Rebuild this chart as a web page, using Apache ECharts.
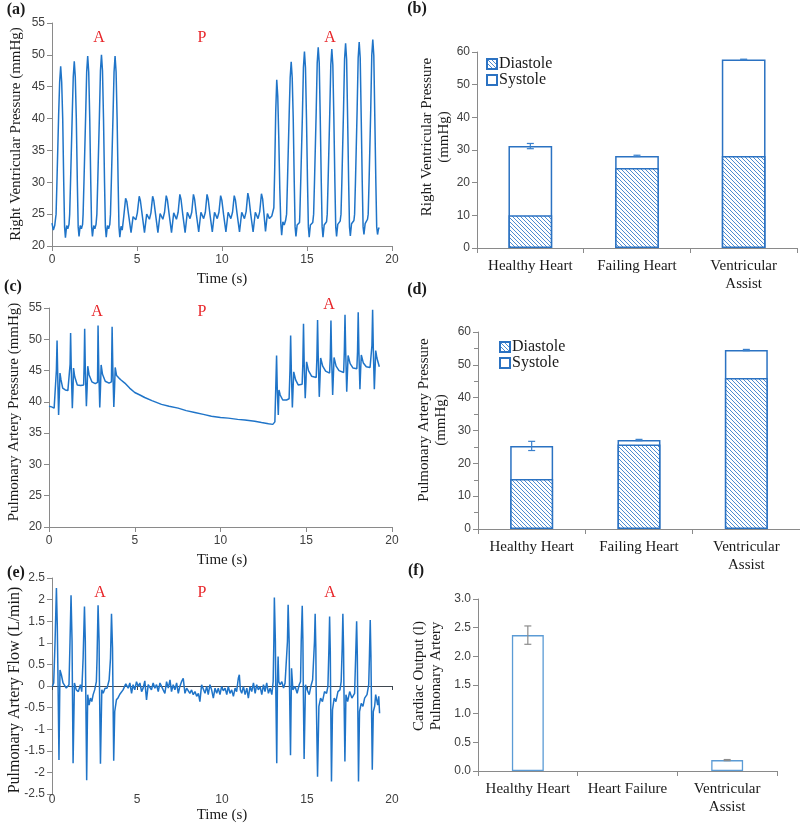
<!DOCTYPE html>
<html><head><meta charset="utf-8">
<script src="https://cdn.jsdelivr.net/npm/echarts@6/dist/echarts.min.js"></script>
<style>html,body{margin:0;padding:0;background:#fff}#chart{width:800px;height:831px}</style>
</head><body><div id="chart"></div>
<script>
// ---------- DATA ----------
const rvPressure = [
[0.00,23.6],[0.08,22.5],[0.16,23.2],[0.24,25],[0.29,30],[0.39,40.5],[0.45,45.7],[0.51,48.2],[0.57,45.7],[0.63,40],[0.69,30],[0.74,23],[0.79,21.3],[0.86,23.2],[0.93,22.7],[1.00,23.4],
[1.04,25],[1.09,30],[1.19,40.5],[1.25,46.5],[1.31,49.0],[1.37,46.5],[1.43,40],[1.49,30],[1.54,23],[1.59,21.5],[1.66,23.2],[1.73,22.7],[1.80,23.4],
[1.83,25],[1.88,30],[1.98,40.5],[2.04,47.3],[2.10,49.8],[2.16,47.3],[2.22,40],[2.28,30],[2.33,23],[2.38,21.5],[2.45,23.2],[2.52,22.7],[2.59,23.4],
[2.64,25],[2.69,30],[2.79,40.5],[2.85,47.5],[2.91,50.0],[2.97,47.5],[3.03,40],[3.09,30],[3.14,23],[3.19,21.4],[3.26,23.2],[3.33,22.7],[3.40,23.4],
[3.44,25],[3.49,30],[3.59,40.5],[3.65,47.3],[3.71,49.8],[3.77,47.3],[3.83,40],[3.89,30],[3.94,23],[3.99,21.4],[4.06,23.1],[4.13,22.5],
[4.22,24.6],[4.33,27.5],[4.40,27.0],[4.50,25.0],[4.65,22.1],[4.77,24.6],[4.85,24.7],[4.93,24.1],[5.02,25.2],
[5.13,27.8],[5.20,27.1],[5.30,25.0],[5.44,22.1],[5.57,25.0],[5.65,24.8],[5.73,24.2],[5.82,25.2],
[5.92,27.8],[5.99,27.1],[6.09,25.0],[6.23,22.1],[6.36,25.1],[6.44,24.9],[6.52,24.2],[6.62,25.3],
[6.72,27.9],[6.79,27.2],[6.89,25.0],[7.03,22.1],[7.16,25.2],[7.24,24.9],[7.32,24.2],[7.42,25.3],
[7.52,28.1],[7.59,27.3],[7.69,25.0],[7.83,22.1],[7.96,25.3],[8.04,25.0],[8.12,24.3],[8.22,25.3],
[8.32,28.1],[8.39,27.3],[8.49,25.0],[8.63,22.2],[8.76,25.3],[8.84,25.0],[8.92,24.3],[9.02,25.3],
[9.12,28.1],[9.19,27.3],[9.29,25.0],[9.43,22.2],[9.56,25.3],[9.64,25.0],[9.72,24.3],[9.82,25.3],
[9.92,27.9],[9.99,27.2],[10.09,25.0],[10.23,22.2],[10.36,25.3],[10.44,25.0],[10.52,24.3],[10.62,25.3],
[10.72,27.9],[10.79,27.2],[10.89,25.0],[11.03,22.2],[11.16,25.3],[11.24,25.0],[11.32,24.3],[11.42,25.4],
[11.52,28.3],[11.59,27.4],[11.69,25.0],[11.83,22.2],[11.96,25.3],[12.04,25.0],[12.12,24.3],[12.22,25.4],
[12.32,28.2],[12.39,27.4],[12.47,25.0],[12.56,22.3],[12.67,25.1],[12.79,24.3],[12.93,24.7],[13.00,24.4],
[13.05,26],[13.10,32],[13.16,41],[13.22,46.1],[13.28,43.5],[13.34,37],[13.40,29],[13.46,23.5],[13.51,21.7],[13.58,23.8],[13.66,23.3],[13.74,24.0],
[13.80,25],[13.85,30],[13.95,40.5],[14.01,46.4],[14.07,48.9],[14.13,46.4],[14.19,40],[14.25,30],[14.30,23],[14.35,21.5],[14.42,23.3],[14.49,23.0],[14.56,23.7],
[14.58,25],[14.63,30],[14.73,40.5],[14.79,48],[14.85,50.5],[14.91,48],[14.97,40],[15.03,30],[15.08,23],[15.13,21.4],[15.20,23.3],[15.27,23.0],[15.34,23.7],
[15.39,25],[15.44,30],[15.54,41],[15.60,48.7],[15.66,51.2],[15.72,48.7],[15.78,40],[15.84,30],[15.89,23],[15.94,21.4],[16.01,23.3],[16.08,23.0],[16.15,23.8],
[16.19,25],[16.24,30],[16.34,41],[16.40,48.4],[16.46,50.9],[16.52,48.4],[16.58,40],[16.64,30],[16.69,23],[16.74,21.5],[16.81,23.4],[16.88,23.1],[16.95,23.9],
[17.00,25],[17.05,30],[17.15,41.5],[17.21,49.3],[17.27,51.8],[17.33,49.3],[17.39,40],[17.45,30],[17.50,23],[17.55,21.6],[17.62,23.5],[17.69,23.2],[17.76,24],
[17.80,25],[17.85,30],[17.95,41.5],[18.01,49.5],[18.07,52.0],[18.13,49.5],[18.19,40],[18.25,30],[18.30,23],[18.35,21.8],[18.42,23.5],[18.49,23.2],[18.56,24.2],
[18.60,25],[18.65,30],[18.75,41.5],[18.81,49.9],[18.87,52.4],[18.93,49.9],[18.99,40],[19.05,30],[19.10,23],[19.15,21.8],[19.20,22.6],[19.24,22.9]
];

const paPressure = [
[0.00,39.3],[0.15,39.2],[0.30,39.0],[0.39,39.3],[0.43,45],[0.47,49.8],[0.51,44],[0.56,37.9],[0.60,41],[0.64,44.6],[0.70,43.5],[0.80,42.2],[0.95,41.9],[1.10,41.8],[1.19,42],
[1.23,46],[1.26,51.0],[1.30,45],[1.36,39.0],[1.40,42],[1.43,45.4],[1.50,44.0],[1.65,42.7],[1.85,42.6],[2.02,42.7],
[2.05,46],[2.08,51.7],[2.12,45],[2.18,39.3],[2.22,42],[2.26,45.7],[2.34,44.3],[2.50,43.2],[2.70,42.9],[2.83,43.1],
[2.86,52.2],[2.90,45.5],[2.96,39.1],[3.00,42],[3.04,45.9],[3.12,44.4],[3.28,43.3],[3.50,43.0],[3.64,43.2],
[3.68,52.0],[3.72,45.5],[3.78,39.2],[3.82,42],[3.86,45.5],[3.94,44.2],[4.08,43.8],[4.20,43.5],[4.42,43.0],[4.70,42.2],[5.00,41.5],[5.30,41.1],[5.58,40.7],[6.00,40.2],[6.56,39.6],[7.00,39.3],[7.53,39.0],[8.00,38.6],[8.50,38.3],[9.00,38.0],[9.47,37.7],[10.00,37.5],[10.45,37.4],[11.00,37.2],[11.42,37.1],[12.00,36.9],[12.39,36.7],[12.80,36.5],[13.05,36.4],[13.17,36.8],
[13.22,42],[13.27,47.4],[13.31,42],[13.37,37.9],[13.41,41.9],[13.48,41.1],[13.63,40.3],[13.85,40.3],[14.00,40.5],
[14.05,45],[14.09,50.6],[14.13,45],[14.19,39.1],[14.23,42],[14.27,44.8],[14.38,43.5],[14.53,42.7],[14.76,42.8],
[14.80,46],[14.84,52.5],[14.88,46],[14.94,40.6],[14.98,43],[15.02,46.4],[15.13,45.0],[15.31,44.1],[15.58,43.9],
[15.62,47],[15.66,53.1],[15.70,47],[15.76,40.8],[15.80,43.5],[15.84,47.0],[15.96,45.7],[16.13,44.9],[16.36,44.6],
[16.40,47],[16.44,53.0],[16.48,47],[16.54,41.1],[16.58,44],[16.62,47.1],[16.74,45.7],[16.91,45.0],[17.18,44.7],
[17.22,48],[17.26,53.9],[17.30,48],[17.36,41.6],[17.40,44.5],[17.44,47.4],[17.56,46.1],[17.73,45.4],[17.95,45.3],
[17.99,48],[18.03,54.3],[18.07,48],[18.13,42.0],[18.17,45],[18.21,47.5],[18.33,46.2],[18.50,45.6],[18.72,45.5],[18.80,45.6],
[18.83,49],[18.87,54.7],[18.91,48.5],[18.97,42.0],[19.01,45],[19.05,48.2],[19.12,47.0],[19.18,47.3],[19.26,45.6]
];

const paFlow = [
[0.02,-0.01],[0.10,0.07],[0.18,1.03],[0.26,2.27],[0.31,1.42],[0.35,0.26],[0.41,-1.71],[0.47,0.37],[0.55,0.26],[0.65,0.07],[0.75,0.10],[0.84,-0.05],[0.94,-0.09],[1.00,0.03],
[1.06,1.03],[1.12,2.10],[1.18,1.03],[1.20,0.03],[1.24,-1.79],[1.32,0.07],[1.43,-0.09],[1.55,-0.13],[1.67,0.03],[1.75,-0.13],
[1.83,0.64],[1.91,1.84],[1.96,1.03],[1.98,0.10],[2.04,-2.18],[2.10,-0.20],[2.18,-0.44],[2.26,-0.28],[2.34,-0.36],[2.42,-0.20],[2.51,-0.09],[2.61,0.10],
[2.65,0.64],[2.71,1.87],[2.77,1.03],[2.79,0.10],[2.85,-1.80],[2.93,-0.09],[3.01,-0.17],[3.12,-0.05],[3.24,-0.05],[3.36,0.14],
[3.44,0.64],[3.50,1.67],[3.56,0.88],[3.58,0.10],[3.63,-1.73],[3.69,-0.59],[3.79,-0.32],[3.89,-0.27],[3.99,-0.19],[4.18,-0.09],[4.34,0.05],
[4.38,0.04],[4.48,-0.05],[4.58,0.07],[4.68,-0.17],[4.77,0.03],[4.87,-0.09],[4.97,0.10],[5.07,-0.01],[5.17,0.07],[5.27,-0.13],[5.36,-0.05],[5.46,0.12],[5.56,-0.32],[5.66,0.03],[5.76,-0.01],[5.85,-0.09],[5.95,0.07],[6.05,-0.05],[6.15,0.03],[6.25,-0.13],[6.35,0.07],[6.44,0.10],[6.54,-0.09],[6.64,-0.17],[6.74,0.10],[6.84,-0.05],[6.94,0.14],[7.03,-0.13],[7.13,0.03],[7.23,-0.09],[7.33,0.07],[7.43,-0.17],[7.52,-0.01],[7.62,0.10],[7.72,0.18],[7.82,-0.17],[7.92,-0.05],[8.02,-0.09],[8.11,-0.17],[8.21,-0.09],[8.31,-0.20],[8.41,-0.13],[8.51,-0.24],[8.61,-0.17],[8.70,-0.36],[8.80,0.03],[8.90,0.07],[9.00,-0.17],[9.10,-0.01],[9.19,-0.20],[9.29,0.03],[9.39,-0.09],[9.49,-0.28],[9.59,-0.05],[9.69,-0.17],[9.78,-0.05],[9.88,-0.20],[9.98,-0.01],[10.08,-0.11],
[10.18,-0.05],[10.28,-0.20],[10.37,-0.01],[10.47,-0.17],[10.57,-0.09],[10.67,-0.24],[10.77,-0.05],[10.86,-0.13],[10.96,0.18],[11.02,0.26],[11.08,-0.09],[11.16,-0.17],[11.26,-0.01],[11.36,-0.20],[11.46,-0.05],[11.55,-0.28],[11.65,-0.01],[11.75,-0.13],[11.85,0.07],[11.95,-0.17],[12.04,0.03],[12.14,-0.09],[12.24,-0.01],[12.34,-0.20],[12.44,0.03],[12.53,-0.13],[12.63,0.07],[12.73,-0.17],[12.83,-0.05],[12.93,-0.20],[13.01,0.10],
[13.05,1.03],[13.08,2.05],[13.14,1.03],[13.16,0.10],[13.22,-1.79],[13.26,0.03],[13.30,0.68],[13.34,0.10],[13.42,0.03],[13.52,0.10],[13.62,-0.05],[13.71,0.07],[13.81,0.03],
[13.85,1.03],[13.89,1.88],[13.95,1.03],[13.97,0.03],[14.03,-1.60],[14.09,0.41],[14.17,-0.09],[14.30,-0.01],[14.42,-0.17],[14.54,0.03],[14.62,0.10],
[14.66,1.03],[14.72,1.86],[14.76,1.03],[14.78,0.03],[14.83,-1.69],[14.91,0.03],[15.01,-0.09],[15.13,-0.20],[15.25,0.03],[15.33,0.14],[15.41,0.10],
[15.44,1.03],[15.48,1.67],[15.52,0.88],[15.54,-0.13],[15.62,-2.10],[15.70,-0.47],[15.80,-0.28],[15.91,-0.36],[16.03,-0.13],[16.15,-0.17],[16.23,-0.01],
[16.29,0.88],[16.33,1.61],[16.37,0.80],[16.39,-0.20],[16.44,-2.21],[16.50,-0.55],[16.60,-0.28],[16.70,-0.36],[16.82,-0.13],[16.94,-0.09],[17.01,0.10],
[17.07,0.88],[17.11,1.67],[17.15,0.88],[17.17,0.03],[17.23,-1.75],[17.29,-0.20],[17.39,-0.36],[17.51,-0.13],[17.64,-0.28],[17.80,-0.17],
[17.86,0.64],[17.92,1.50],[17.96,0.72],[17.98,-0.13],[18.03,-2.21],[18.09,-0.59],[18.19,-0.40],[18.29,-0.47],[18.39,-0.28],[18.53,-0.20],[18.63,0.03],
[18.67,0.64],[18.72,1.53],[18.76,0.72],[18.78,0.03],[18.84,-1.94],[18.90,-0.59],[18.98,-0.47],[19.04,-0.20],[19.10,-0.32],[19.16,-0.44],[19.22,-0.24],[19.27,-0.63]
];

const pressureCategories = ['Healthy Heart', 'Failing Heart', 'Ventricular\nAssist'];
const rvDiastole = [10.0, 24.5, 28.2];
const rvSystole = [31.2, 28.2, 57.7];
const rvSystoleErr = [0.8, 0.2, 0.1];
const paDiastole = [15.2, 25.7, 46.0];
const paSystole = [25.3, 27.1, 54.5];
const paSystoleErr = [1.4, 0.2, 0.2];
const outputCategories = ['Healthy Heart', 'Heart Failure', 'Ventricular\nAssist'];
const cardiacOutput = [2.37, 0, 0.19];
const cardiacOutputErr = [0.16, 0, 0.01];

// ---------- STYLE ----------
const LINE = '#1f74c8';
const BARC = '#2b72c2';
const AXIS = '#8a8a8a';
const LBL = '#404040';
const SERIF = 'Liberation Serif';
const SANS = 'Liberation Sans';

function makeHatch(color) {
  const s = 4, c = document.createElement('canvas');
  c.width = s; c.height = s;
  const g = c.getContext('2d');
  g.fillStyle = '#fff'; g.fillRect(0, 0, s, s);
  g.strokeStyle = color; g.lineWidth = 0.9;
  g.beginPath();
  g.moveTo(-1, -1); g.lineTo(s + 1, s + 1);
  g.moveTo(s - 1, -1); g.lineTo(s + 1, 1);
  g.moveTo(-1, s - 1); g.lineTo(1, s + 1);
  g.stroke();
  return c;
}
const hatch = { image: makeHatch('#3a7fcc'), repeat: 'repeat' };

function timeX(gi, extra) {
  return Object.assign({
    gridIndex: gi, type: 'value', min: 0, max: 20, interval: 5,
    axisLine: { show: true, onZero: false, lineStyle: { color: AXIS } },
    axisTick: { show: true, length: 5, lineStyle: { color: AXIS } },
    axisLabel: { color: LBL, fontFamily: SANS, fontSize: 12, margin: 8 },
    splitLine: { show: false }
  }, extra || {});
}
function valY(gi, min, max, interval, extra) {
  return Object.assign({
    gridIndex: gi, type: 'value', min, max, interval,
    axisLine: { show: true, onZero: false, lineStyle: { color: AXIS } },
    axisTick: { show: true, length: 5, lineStyle: { color: AXIS } },
    axisLabel: { color: LBL, fontFamily: SANS, fontSize: 12, margin: 7 },
    splitLine: { show: false }
  }, extra || {});
}
function catX(gi, data) {
  return {
    gridIndex: gi, type: 'category', data,
    axisLine: { lineStyle: { color: AXIS } },
    axisTick: { show: true, length: 5, lineStyle: { color: AXIS } },
    axisLabel: { color: '#1a1a1a', fontFamily: SERIF, fontSize: 15, lineHeight: 18, margin: 9, interval: 0 },
    splitLine: { show: false }
  };
}
function lineSeries(xi, yi, data) {
  return { type: 'line', xAxisIndex: xi, yAxisIndex: yi, data, showSymbol: false, symbol: 'none',
    lineStyle: { color: LINE, width: 1.5 }, itemStyle: { color: LINE }, z: 3 };
}
function errSeries(xi, yi, vals, errs, color) {
  return {
    type: 'custom', xAxisIndex: xi, yAxisIndex: yi, z: 10,
    data: vals.map((v, i) => [i, v, errs[i]]),
    encode: { x: 0, y: 1 },
    renderItem(params, api) {
      const i = api.value(0), v = api.value(1), e = api.value(2);
      if (!v || !e) return null;
      const hi = api.coord([i, v + e]), lo = api.coord([i, v - e]);
      const w = 3.5, st = { stroke: color, lineWidth: 1.2 };
      return { type: 'group', children: [
        { type: 'line', shape: { x1: hi[0], y1: hi[1], x2: lo[0], y2: lo[1] }, style: st },
        { type: 'line', shape: { x1: hi[0] - w, y1: hi[1], x2: hi[0] + w, y2: hi[1] }, style: st },
        { type: 'line', shape: { x1: lo[0] - w, y1: lo[1], x2: lo[0] + w, y2: lo[1] }, style: st }
      ] };
    }
  };
}
function txt(text, x, y, o) {
  o = o || {};
  return {
    type: 'text', x, y, rotation: o.rot || 0, silent: true, z: 100,
    style: {
      text, fontFamily: o.family || SERIF, fontSize: o.size || 15, fontWeight: o.weight || 'normal',
      fill: o.color || '#1a1a1a', lineHeight: o.lh || 17,
      align: 'center', verticalAlign: 'middle', textAlign: 'center', textVerticalAlign: 'middle'
    }
  };
}
const RED = '#e8262a';
const V = Math.PI / 2;

const legendCommon = {
  data: ['Diastole', 'Systole'], orient: 'vertical', icon: 'rect', itemWidth: 10, itemHeight: 10, itemGap: 0,
  selectedMode: false, textStyle: { fontFamily: SERIF, fontSize: 16, color: '#1a1a1a', lineHeight: 16, padding: [0, 0, 0, -3] }
};

const option = {
  animation: false,
  backgroundColor: '#fff',
  grid: [
    { left: 52, top: 23, width: 340, height: 223 },
    { left: 477, top: 52, width: 320, height: 196 },
    { left: 49, top: 308, width: 343, height: 219 },
    { left: 478, top: 332, width: 322, height: 197 },
    { left: 52, top: 578, width: 340, height: 216 },
    { left: 478, top: 599, width: 299, height: 172 }
  ],
  legend: [
    Object.assign({ left: 481, top: 51 }, legendCommon),
    Object.assign({ left: 494, top: 334 }, legendCommon)
  ],
  xAxis: [
    timeX(0),
    catX(1, pressureCategories),
    timeX(2),
    catX(3, pressureCategories),
    timeX(4, { axisLine: { show: true, onZero: true, lineStyle: { color: '#3f4750', width: 1.2 } }, axisLabel: { show: false },
      axisTick: { show: true, length: 4, lineStyle: { color: '#3f4750' } } }),
    catX(5, outputCategories),
    timeX(4, { position: 'bottom', axisLine: { show: false, onZero: false }, axisTick: { show: false },
      axisLabel: { color: LBL, fontFamily: SANS, fontSize: 12, margin: 0 } })
  ],
  yAxis: [
    valY(0, 20, 55, 5),
    valY(1, 0, 60, 10),
    valY(2, 20, 55, 5),
    valY(3, 0, 60, 10, { minorTick: { show: true, splitNumber: 2, length: 4, lineStyle: { color: AXIS } } }),
    valY(4, -2.5, 2.5, 0.5),
    valY(5, 0, 3, 0.5, { axisLabel: { color: LBL, fontFamily: SANS, fontSize: 12, margin: 7, formatter: v => v.toFixed(1) } })
  ],
  series: [
    lineSeries(0, 0, rvPressure),
    { name: 'Systole', type: 'bar', xAxisIndex: 1, yAxisIndex: 1, data: rvSystole, barWidth: '41%', barGap: '-100%',
      itemStyle: { color: '#fff', borderColor: BARC, borderWidth: 1.5 }, z: 2 },
    { name: 'Diastole', type: 'bar', xAxisIndex: 1, yAxisIndex: 1, data: rvDiastole, barWidth: '41%', barGap: '-100%',
      itemStyle: { color: hatch, borderColor: BARC, borderWidth: 1.5 }, z: 3 },
    errSeries(1, 1, rvSystole, rvSystoleErr, '#3a80cc'),
    lineSeries(2, 2, paPressure),
    { name: 'Systole', type: 'bar', xAxisIndex: 3, yAxisIndex: 3, data: paSystole, barWidth: '40%', barGap: '-100%',
      itemStyle: { color: '#fff', borderColor: BARC, borderWidth: 1.5 }, z: 2 },
    { name: 'Diastole', type: 'bar', xAxisIndex: 3, yAxisIndex: 3, data: paDiastole, barWidth: '40%', barGap: '-100%',
      itemStyle: { color: hatch, borderColor: BARC, borderWidth: 1.5 }, z: 3 },
    errSeries(3, 3, paSystole, paSystoleErr, '#3a80cc'),
    lineSeries(4, 4, paFlow),
    { type: 'bar', xAxisIndex: 5, yAxisIndex: 5,
      data: cardiacOutput.map(v => v === 0 ? { value: v, itemStyle: { borderWidth: 0 } } : v), barWidth: '32%',
      itemStyle: { color: '#fff', borderColor: '#5b9bd5', borderWidth: 1.3 }, z: 2 },
    errSeries(5, 5, cardiacOutput, cardiacOutputErr, '#8c8c8c')
  ],
  graphic: [
    txt('(a)', 16, 10, { weight: 'bold', size: 16 }),
    txt('(b)', 417, 9, { weight: 'bold', size: 16 }),
    txt('(c)', 13, 287, { weight: 'bold', size: 16 }),
    txt('(d)', 417, 290, { weight: 'bold', size: 16 }),
    txt('(e)', 16, 573, { weight: 'bold', size: 16 }),
    txt('(f)', 416, 571, { weight: 'bold', size: 16 }),
    txt('Right Ventricular Pressure (mmHg)', 16, 134, { rot: V }),
    txt('Time (s)', 222, 279),
    txt('Right Ventricular Pressure\n(mmHg)', 436, 137, { rot: V }),
    txt('Pulmonary Artery Pressure (mmHg)', 14, 412, { rot: V }),
    txt('Time (s)', 222, 560),
    txt('Pulmonary Artery Pressure\n(mmHg)', 433, 420, { rot: V }),
    txt('Pulmonary Artery Flow (L/min)', 15, 690, { rot: V, size: 16 }),
    txt('Time (s)', 222, 815),
    txt('Cardiac Output (l)\nPulmonary Artery', 428, 676, { rot: V }),
    txt('A', 99, 38, { color: RED, size: 16 }),
    txt('P', 202, 38, { color: RED, size: 16 }),
    txt('A', 330, 38, { color: RED, size: 16 }),
    txt('A', 97, 312, { color: RED, size: 16 }),
    txt('P', 202, 312, { color: RED, size: 16 }),
    txt('A', 329, 305, { color: RED, size: 16 }),
    txt('A', 100, 593, { color: RED, size: 16 }),
    txt('P', 202, 593, { color: RED, size: 16 }),
    txt('A', 330, 593, { color: RED, size: 16 })
  ]
};

const chart = echarts.init(document.getElementById('chart'), null, { renderer: 'canvas' });
chart.setOption(option);
</script>
</body></html>
